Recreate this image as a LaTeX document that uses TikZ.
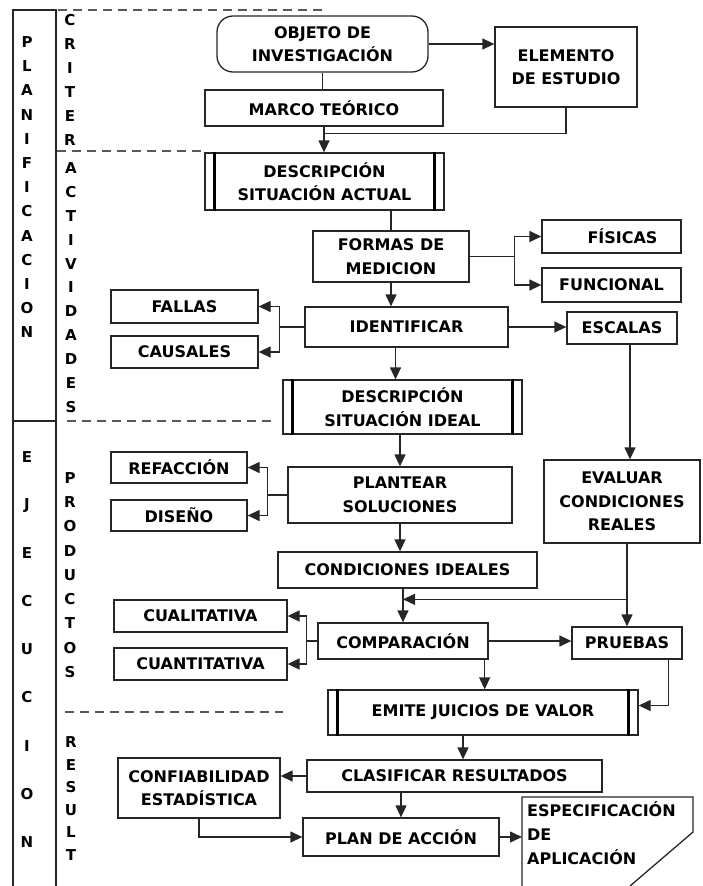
\documentclass[tikz,border=0pt]{standalone}
\usepackage{fontspec}
\setmainfont{DejaVu Sans}
\usetikzlibrary{arrows.meta}
\begin{document}
\begin{tikzpicture}[x=1pt,y=-1pt,
  line/.style={draw=black!85, line width=1.3pt},
  arr/.style={line, -{Triangle[length=12pt,width=11pt]}},
  box/.style={draw=black!85, line width=1.3pt, fill=white, inner sep=0pt,
    align=center, font=\bfseries\fontsize{16}{23.5}\selectfont},
  bar/.style={line width=3pt, black},
  sep/.style={draw=black!65, line width=1.2pt, dash pattern=on 9pt off 6pt},
  letter/.style={font=\bfseries\fontsize{15}{15}\selectfont, inner sep=0pt},
]
\useasboundingbox (0,0) rectangle (703,886);

% ---- phase frame on the left ----
\draw[line] (13,886) -- (13,10) -- (56,10) -- (56,886);
\draw[line] (13,421) -- (56,421);

\foreach \l [count=\i from 0] in {P,L,A,N,I,F,I,C,A,C,I,O,N}
  \node[letter] (pl\i) at (27,{42+24.2*\i}) {\l};
\foreach \l [count=\i from 0] in {E,J,E,C,U,C,I,O,N}
  \node[letter] (ej\i) at (27,{457+48.1*\i}) {\l};
\foreach \l [count=\i from 0] in {C,R,I,T,E,R}
  \node[letter] (cr\i) at (70,{20+24*\i}) {\l};
\foreach \l [count=\i from 0] in {A,C,T,I,V,I,D,A,D,E,S}
  \node[letter] (ac\i) at (71,{168+23.9*\i}) {\l};
\foreach \l [count=\i from 0] in {P,R,O,D,U,C,T,O,S}
  \node[letter] (pr\i) at (70,{478+24.25*\i}) {\l};
\foreach \l [count=\i from 0] in {R,E,S,U,L,T}
  \node[letter] (re\i) at (71,{742+22.6*\i}) {\l};

% ---- boxes ----
\node[box, minimum width=211pt, minimum height=56pt, rounded corners=16pt] (obj) at (322.5,44) {OBJETO DE\\INVESTIGACIÓN};
\node[box, minimum width=142pt, minimum height=80pt] (elem) at (566,67) {ELEMENTO\\DE ESTUDIO};
\node[box, minimum width=238pt, minimum height=36pt] (marco) at (324,108) {MARCO TEÓRICO};
\node[box, minimum width=239pt, minimum height=57pt] (dact) at (324.5,181.5) {DESCRIPCIÓN\\SITUACIÓN ACTUAL};
\node[box, minimum width=156pt, minimum height=51pt] (formas) at (391,256.5) {FORMAS DE\\MEDICION};
\node[box, minimum width=139pt, minimum height=33pt] (fisicas) at (611.5,236.5) {\hspace*{22pt}FÍSICAS};
\node[box, minimum width=139pt, minimum height=34pt] (funcional) at (611.5,285) {FUNCIONAL};
\node[box, minimum width=203pt, minimum height=40pt] (ident) at (406.5,327) {IDENTIFICAR};
\node[box, minimum width=147pt, minimum height=33pt] (fallas) at (184.5,306.5) {FALLAS};
\node[box, minimum width=147pt, minimum height=32pt] (causales) at (184.5,352) {CAUSALES};
\node[box, minimum width=110pt, minimum height=32pt] (escalas) at (622,328) {ESCALAS};
\node[box, minimum width=239pt, minimum height=54pt] (dideal) at (402.5,407) {DESCRIPCIÓN\\SITUACIÓN IDEAL};
\node[box, minimum width=156pt, minimum height=83pt] (evaluar) at (622,501.5) {EVALUAR\\CONDICIONES\\REALES};
\node[box, minimum width=224pt, minimum height=56pt] (plantear) at (400,495) {PLANTEAR\\SOLUCIONES};
\node[box, minimum width=136pt, minimum height=31pt] (refaccion) at (179,467.5) {REFACCIÓN};
\node[box, minimum width=136pt, minimum height=31pt] (diseno) at (179,515.5) {DISEÑO};
\node[box, minimum width=259pt, minimum height=36pt] (cideal) at (407.5,570) {CONDICIONES IDEALES};
\node[box, minimum width=170pt, minimum height=36pt] (compar) at (403,641) {COMPARACIÓN};
\node[box, minimum width=173pt, minimum height=32pt] (cualit) at (200.5,616) {CUALITATIVA};
\node[box, minimum width=173pt, minimum height=32pt] (cuantit) at (200.5,664) {CUANTITATIVA};
\node[box, minimum width=110pt, minimum height=32pt] (pruebas) at (627,643) {PRUEBAS};
\node[box, minimum width=310pt, minimum height=45pt] (emite) at (483,712.5) {EMITE JUICIOS DE VALOR};
\node[box, minimum width=295pt, minimum height=32pt] (clasif) at (454.5,776) {CLASIFICAR RESULTADOS};
\node[box, minimum width=162pt, minimum height=60pt] (confiab) at (199,788) {CONFIABILIDAD\\ESTADÍSTICA};
\node[box, minimum width=196pt, minimum height=38pt] (plan) at (401,837) {PLAN DE ACCIÓN};

% document shape with a cut corner
\coordinate (espnw) at (522,797);
\draw[line] (522,886) -- (espnw) -- (693,797) -- (693,832) -- (630,886);
\node[anchor=north west, align=left, inner sep=0pt,
  font=\bfseries\fontsize{16}{24}\selectfont] (espec) at (527,801)
  {ESPECIFICACIÓN\\DE\\APLICACIÓN};

% inner bars of the process boxes
\foreach \n in {dact,dideal,emite} {
  \draw[bar] ([xshift=10pt]\n.north west) -- ([xshift=10pt]\n.south west);
  \draw[bar] ([xshift=-10pt]\n.north east) -- ([xshift=-10pt]\n.south east);
}

% ---- section separators ----
\draw[sep] (58,10) -- (322,10) -- (obj.north);
\draw[sep] (57,151) -- (205,151);
\draw[sep] (67,421) -- (275,421);
\draw[sep] (65,712) -- (283,712);

% ---- connectors ----
\draw[arr] (obj.east) -- (obj.east -| elem.west);
\draw[line] (obj.south) -- (obj.south |- marco.north);
\draw[arr] (marco.south) -- (marco.south |- dact.north);
\coordinate (j1) at ([yshift=-7pt]marco.south);
\draw[line] (elem.south) |- (j1);
\draw[line] (formas.north |- dact.south) -- (formas.north);
\coordinate (b1) at ([xshift=45pt]formas.east);
\draw[line] (formas.east) -- (b1);
\draw[arr] (b1) |- (fisicas.west);
\draw[arr] (b1) |- (funcional.west);
\draw[arr] (formas.south) -- (formas.south |- ident.north);
\coordinate (b2) at ([xshift=-25pt]ident.west);
\draw[line] (ident.west) -- (b2);
\draw[arr] (b2) |- (fallas.east);
\draw[arr] (b2) |- (causales.east);
\draw[arr] (ident.east) -- (ident.east -| escalas.west);
\draw[arr] ([xshift=8pt]escalas.south) -- ([xshift=8pt]escalas.south |- evaluar.north);
\draw[arr] ([xshift=-11pt]ident.south) -- ([xshift=-11pt]ident.south |- dideal.north);
\draw[arr] (dideal.south -| plantear.north) -- (plantear.north);
\coordinate (b3) at ([xshift=-20pt]plantear.west);
\draw[line] (plantear.west) -- (b3);
\draw[arr] (b3) |- (refaccion.east);
\draw[arr] (b3) |- (diseno.east);
\draw[arr] (plantear.south) -- (plantear.south |- cideal.north);
\draw[arr] (compar.north |- cideal.south) -- (compar.north);
\draw[arr] (evaluar.south -| pruebas.north) -- (pruebas.north);
\coordinate (j2) at ([yshift=27pt]pruebas.north);
\draw[arr] (j2) -- (j2 -| compar.north);
\coordinate (b4) at ([xshift=-11pt]compar.west);
\draw[line] (compar.west) -- (b4);
\draw[arr] (b4) |- (cualit.east);
\draw[arr] (b4) |- (cuantit.east);
\draw[arr] (compar.east) -- (compar.east -| pruebas.west);
\draw[arr] ([xshift=-4pt]compar.south east) -- ([xshift=-4pt]compar.south east |- emite.north);
\draw[arr] ([xshift=-14pt]pruebas.south east) |- ([yshift=7pt]emite.east);
\draw[arr] ([xshift=-20pt]emite.south) -- ([xshift=-20pt]emite.south |- clasif.north);
\draw[arr] (clasif.west) -- (clasif.west -| confiab.east);
\draw[arr] (plan.north |- clasif.south) -- (plan.north);
\draw[arr] (confiab.south) |- (plan.west);
\draw[arr] (plan.east) -- (plan.east -| espnw);
\end{tikzpicture}
\end{document}
